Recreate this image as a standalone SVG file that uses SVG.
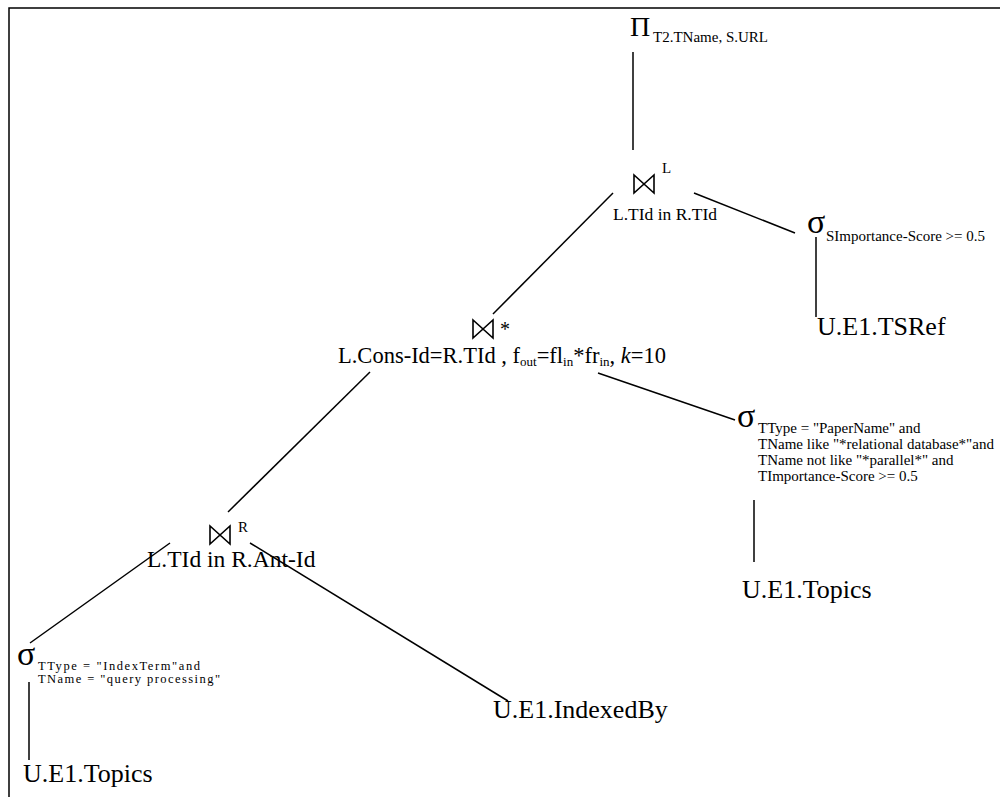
<svg xmlns="http://www.w3.org/2000/svg" width="1000" height="797" viewBox="0 0 1000 797">
  <style>
    .t { font-family: "Liberation Serif", "Times New Roman", serif; fill: #000; }
    .rel { font-size: 26px; }
    .lbl { font-size: 17.5px; }
    .sub { font-size: 15px; }
    .op { font-size: 34px; }
    .edge { stroke: #000; stroke-width: 1.5; fill: none; }
    .bow { stroke: #000; stroke-width: 1.6; fill: none; stroke-linejoin: miter; }
  </style>
  <defs>
    <!-- join operator: two triangles meeting at a point -->
    <path id="bowtie" class="bow" d="M0,0 L0,18 L20,0 L20,18 Z"/>
  </defs>
  <rect x="0" y="0" width="1000" height="797" fill="#fff"/>
  <!-- frame -->
  <path d="M9,797 V8 H1000" stroke="#000" stroke-width="1.5" fill="none"/>

  <g id="connectors">
    <line class="edge" x1="633" y1="52" x2="633" y2="150"/>
    <line class="edge" x1="613" y1="193" x2="493" y2="314"/>
    <line class="edge" x1="694" y1="193" x2="795" y2="233"/>
    <line class="edge" x1="816" y1="237" x2="816" y2="317"/>
    <line class="edge" x1="370" y1="372" x2="228" y2="512"/>
    <line class="edge" x1="598" y1="373" x2="735" y2="420"/>
    <line class="edge" x1="754" y1="500" x2="754" y2="562"/>
    <line class="edge" x1="170" y1="543" x2="30" y2="643"/>
    <line class="edge" x1="250" y1="543" x2="508" y2="701"/>
    <line class="edge" x1="29" y1="682" x2="29" y2="760"/>
  </g>

  <g id="project">
    <text class="t" x="630" y="36" font-size="28">Π</text>
    <text class="t sub" x="653" y="42">T2.TName, S.URL</text>
  </g>

  <g id="join-left-outer">
    <use href="#bowtie" x="634" y="175"/>
    <text class="t" x="662" y="173" font-size="15">L</text>
    <text class="t lbl" x="613" y="220">L.TId in R.TId</text>
  </g>

  <g id="select-score">
    <text class="t op" x="807" y="233">σ</text>
    <text class="t sub" x="826" y="241">SImportance-Score &gt;= 0.5</text>
  </g>

  <g id="tsref">
    <text class="t rel" x="817" y="335">U.E1.TSRef</text>
  </g>

  <g id="join-star">
    <use href="#bowtie" x="473" y="320"/>
    <text class="t" x="500" y="336" font-size="20">*</text>
    <text class="t" x="338" y="363" font-size="22.5">L.Cons-Id=R.TId , f<tspan font-size="13" dy="3">out</tspan><tspan dy="-3">=fl</tspan><tspan font-size="13" dy="3">in</tspan><tspan dy="-3">*fr</tspan><tspan font-size="13" dy="3">in</tspan><tspan dy="-3">, </tspan><tspan font-style="italic">k</tspan>=10</text>
  </g>

  <g id="select-paper">
    <text class="t op" x="737" y="427">σ</text>
    <text class="t sub" x="758" y="433">TType = "PaperName" and</text>
    <text class="t sub" x="758" y="449">TName like "*relational database*"and</text>
    <text class="t sub" x="758" y="465">TName not like "*parallel*" and</text>
    <text class="t sub" x="758" y="481">TImportance-Score &gt;= 0.5</text>
  </g>

  <g id="topics-right">
    <text class="t rel" x="742" y="598">U.E1.Topics</text>
  </g>

  <g id="join-right-outer">
    <use href="#bowtie" x="210" y="526"/>
    <text class="t" x="238" y="532" font-size="15">R</text>
    <text class="t" x="147" y="567" font-size="23.5">L.TId in R.Ant-Id</text>
  </g>

  <g id="select-index">
    <text class="t op" x="17" y="665">σ</text>
    <text class="t" x="38" y="670" font-size="12.5" textLength="162" lengthAdjust="spacing">TType = "IndexTerm"and</text>
    <text class="t" x="38" y="683" font-size="12.5" textLength="182" lengthAdjust="spacing">TName = "query processing"</text>
  </g>

  <g id="topics-left">
    <text class="t rel" x="23" y="782">U.E1.Topics</text>
  </g>

  <g id="indexedby">
    <text class="t rel" x="493" y="718">U.E1.IndexedBy</text>
  </g>
</svg>
